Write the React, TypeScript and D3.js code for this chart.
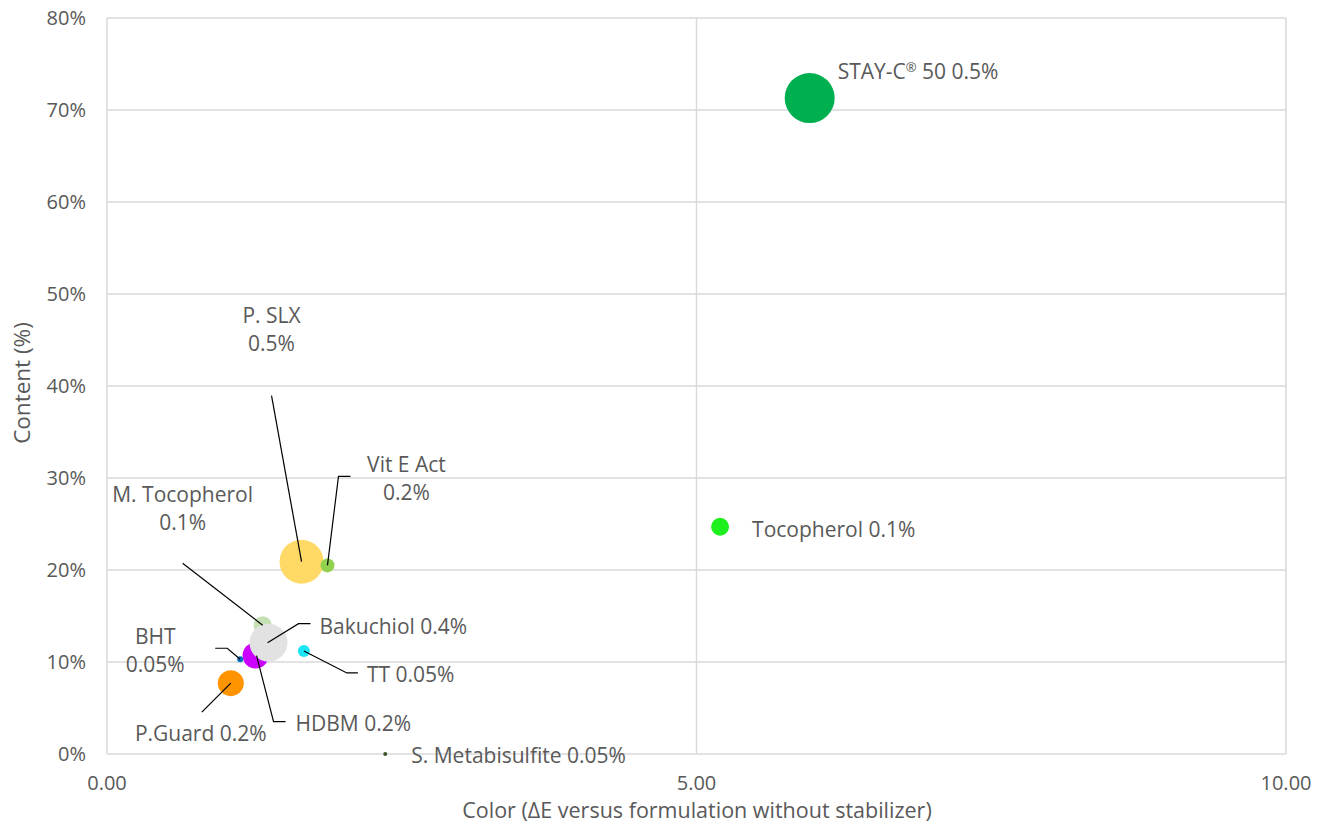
import React from "react";
import * as d3 from "d3";

const names = ["STAY-C® 50 0.5%", "Tocopherol 0.1%", "P. SLX|0.5%", "Vit E Act|0.2%", "M. Tocopherol|0.1%", "Bakuchiol 0.4%", "BHT|0.05%", "TT 0.05%", "HDBM 0.2%", "P.Guard 0.2%", "S. Metabisulfite 0.05%"];
const colorDE = [5.96, 5.2, 1.65, 1.87, 1.32, 1.37, 1.13, 1.67, 1.26, 1.05, 2.36];
const content = [71.3, 24.7, 20.9, 20.5, 14.0, 12.1, 10.3, 11.2, 10.7, 7.7, 0.0];
const bubbleSize = [625, 81, 484, 49, 81, 361, 9, 36, 169, 169, 4];
const colors = ["#00B050", "#1EF01E", "#FFD966", "#92D050", "#C5E0B4", "#E2E2E2", "#0070C0", "#1CE6F5", "#CC00FF", "#FF9300", "#375623"];
const drawOrder = [0, 1, 2, 3, 4, 8, 6, 5, 7, 9, 10];
// label offsets (px) relative to bubble, anchor, leader path offsets
const labelDX = [28, 32, -30, 79, -80, 51, -85, 63, 40, -30, 26];
const labelDY = [-26, 3, -246, -101, -131, -16, -23, 24, 68, 50, 2];
const labelAnchor = ["start", "start", "middle", "middle", "middle", "start", "middle", "start", "start", "middle", "start"];
const leaders: number[][][] = [
  [],
  [],
  [[-30, -166], [0, 0]],
  [[23, -89], [11, -89], [0, 0]],
  [[-80, -62], [0, 0]],
  [[42, -19], [30, -19], [-1, 0]],
  [[-25, -11], [-13, -11], [0, 0]],
  [[54, 22], [43, 22], [0, 0]],
  [[30, 66], [18, 66], [1, 0]],
  [[-29, 29], [0, 0]],
  [],
];
const yTicks = [0, 10, 20, 30, 40, 50, 60, 70, 80];
const xTicks = [0, 5, 10];

function renderLine(p: string) {
  const idx = p.indexOf("®");
  if (idx < 0) return p;
  return (
    <>
      {p.slice(0, idx)}
      <tspan fontSize={13} dy={-7}>®</tspan>
      <tspan dy={7}>{p.slice(idx + 1)}</tspan>
    </>
  );
}

export default function App() {
  const W = 1317, H = 825;
  const x = d3.scaleLinear().domain([0, 10]).range([107, 1286]);
  const y = d3.scaleLinear().domain([0, 80]).range([754, 18]);
  const r = d3.scaleSqrt().domain([0, 625]).range([0, 25]);
  const font = "'Open Sans', sans-serif";
  const tc = "#595959";
  const line = d3.line();
  return (
    <svg width={W} height={H} style={{ position: "absolute", left: 0, top: 0, background: "#fff" }} fontFamily={font}>
      {yTicks.map((t) => (
        <g key={"y" + t}>
          <line x1={x(0)} x2={x(10)} y1={y(t)} y2={y(t)} stroke="#D9D9D9" strokeWidth={1.5} />
          <text x={86} y={y(t)} dy="0.35em" textAnchor="end" fontSize={20} fill={tc}>{t + "%"}</text>
        </g>
      ))}
      {xTicks.map((t) => (
        <g key={"x" + t}>
          <line x1={x(t)} x2={x(t)} y1={y(0)} y2={y(80)} stroke="#D9D9D9" strokeWidth={1.5} />
          <text x={x(t)} y={783} dy="0.35em" textAnchor="middle" fontSize={20} fill={tc}>{t.toFixed(2)}</text>
        </g>
      ))}
      <text x={697} y={810} dy="0.35em" textAnchor="middle" fontSize={21.5} fill={tc}>Color (ΔE versus formulation without stabilizer)</text>
      <text transform={`translate(22,383) rotate(-90)`} dy="0.35em" textAnchor="middle" fontSize={22.5} fill={tc}>Content (%)</text>
      {drawOrder.map((i) => (
        <circle key={"c" + i} cx={x(colorDE[i])} cy={y(content[i])} r={r(bubbleSize[i])} fill={colors[i]} />
      ))}
      {names.map((n, i) => {
        const cx = x(colorDE[i]), cy = y(content[i]);
        if (!leaders[i].length) return null;
        const pts = leaders[i].map((p) => [cx + p[0], cy + p[1]] as [number, number]);
        return <path key={"l" + i} d={line(pts) || ""} fill="none" stroke="#000" strokeWidth={1.2} />;
      })}
      {names.map((n, i) => {
        const cx = x(colorDE[i]), cy = y(content[i]);
        const parts = n.split("|");
        return (
          <text key={"t" + i} x={cx + labelDX[i]} y={cy + labelDY[i]} textAnchor={labelAnchor[i]} fontSize={21} fill={tc}>
            {parts.map((p, k) => (
              <tspan key={k} x={cx + labelDX[i]} dy={k === 0 ? "0.35em" : 28}>{renderLine(p)}</tspan>
            ))}
          </text>
        );
      })}
    </svg>
  );
}
